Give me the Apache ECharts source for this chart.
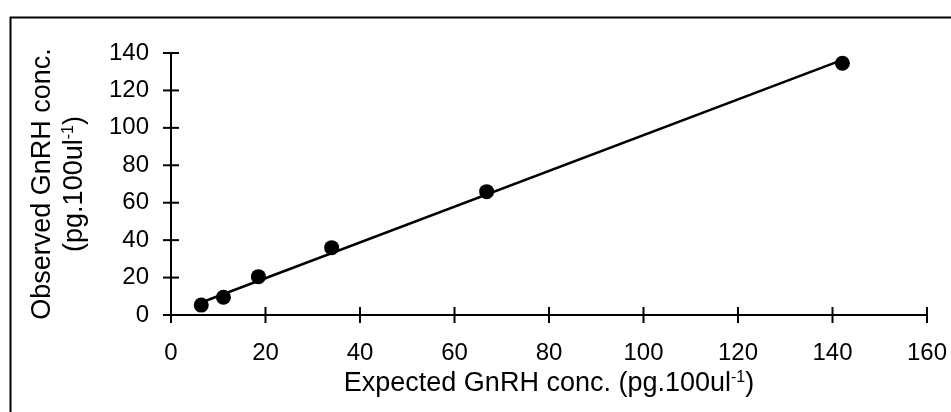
<!DOCTYPE html>
<html>
<head>
<meta charset="utf-8">
<script src="https://cdn.jsdelivr.net/npm/echarts@6/dist/echarts.min.js"></script>
<style>
html,body{margin:0;padding:0;background:#fff;}
#c{width:951px;height:412px;}
</style>
</head>
<body>
<div id="c"></div>
<script>
// Data
var expected = [6.4, 11.1, 18.5, 34.0, 66.8, 142.1];
var observed = [5.3, 9.5, 20.5, 36.0, 65.9, 134.5];
// Regression line endpoints (as drawn)
var fitX = [6.4, 142.1];
var fitY = [6.7, 136.3];
var xTicks = [0, 20, 40, 60, 80, 100, 120, 140, 160];
var yTicks = [0, 20, 40, 60, 80, 100, 120, 140];

var FONT = '"Liberation Sans", Arial, sans-serif';
var chart = echarts.init(document.getElementById('c'));

var pts = expected.map(function (x, i) { return [x, observed[i]]; });
var fit = fitX.map(function (x, i) { return [x, fitY[i]]; });
var xMin = xTicks[0], xMax = xTicks[xTicks.length - 1];
var yMin = yTicks[0], yMax = yTicks[yTicks.length - 1];

var TICK = 8;
var tickStyle = { stroke: '#000', lineWidth: 2 };
var axisLineStyle = { color: '#000', width: 2 };

// crossing tick marks, placed through the axes' own scales
function xTickItem(params, api) {
  var p = api.coord([api.value(0), yMin]);
  return { type: 'line', shape: { x1: p[0], y1: p[1] - TICK, x2: p[0], y2: p[1] + TICK }, style: tickStyle };
}
function yTickItem(params, api) {
  var p = api.coord([xMin, api.value(0)]);
  return { type: 'line', shape: { x1: p[0] - TICK, y1: p[1], x2: p[0] + TICK, y2: p[1] }, style: tickStyle };
}

var option = {
  animation: false,
  backgroundColor: '#fff',
  grid: { left: 171, right: 24, top: 53, bottom: 97, containLabel: false },
  graphic: [{
    type: 'rect',
    left: 8, top: 15,
    shape: { width: 960, height: 420 },
    style: { fill: 'none', stroke: '#000', lineWidth: 2 },
    silent: true
  }],
  xAxis: {
    type: 'value',
    min: xMin, max: xMax, interval: 20,
    axisLine: { show: true, onZero: false, lineStyle: axisLineStyle },
    axisTick: { show: false },
    splitLine: { show: false },
    axisLabel: { color: '#000', fontSize: 24, fontFamily: FONT, margin: 26 },
    name: 'Expected GnRH conc. (pg.100ul{sup|-1})',
    nameLocation: 'middle', nameGap: 55,
    nameTextStyle: {
      color: '#000', fontSize: 27, fontFamily: FONT,
      rich: { sup: { fontSize: 16, color: '#000', fontFamily: FONT, padding: [0, 0, 12, 0] } }
    }
  },
  yAxis: {
    type: 'value',
    min: yMin, max: yMax, interval: 20,
    axisLine: { show: true, onZero: false, lineStyle: axisLineStyle },
    axisTick: { show: false },
    splitLine: { show: false },
    axisLabel: { color: '#000', fontSize: 24, fontFamily: FONT, margin: 22 },
    name: 'Observed GnRH conc.\n(pg.100ul{sup|-1})',
    nameLocation: 'middle', nameGap: 80, nameRotate: 90,
    nameTextStyle: {
      color: '#000', fontSize: 27, fontFamily: FONT, lineHeight: 32,
      rich: { sup: { fontSize: 16, color: '#000', fontFamily: FONT, padding: [0, 0, 12, 0] } }
    }
  },
  series: [
    {
      type: 'custom',
      data: xTicks.map(function (v) { return [v]; }),
      renderItem: xTickItem,
      clip: false, silent: true
    },
    {
      type: 'custom',
      data: yTicks.map(function (v) { return [v]; }),
      renderItem: yTickItem,
      encode: { y: 0 },
      clip: false, silent: true
    },
    {
      type: 'line',
      data: fit,
      symbol: 'none',
      lineStyle: { color: '#000', width: 2.5 },
      silent: true
    },
    {
      type: 'scatter',
      data: pts,
      symbol: 'circle',
      symbolSize: 15,
      itemStyle: { color: '#000', opacity: 1 }
    }
  ]
};
chart.setOption(option);
</script>
</body>
</html>
